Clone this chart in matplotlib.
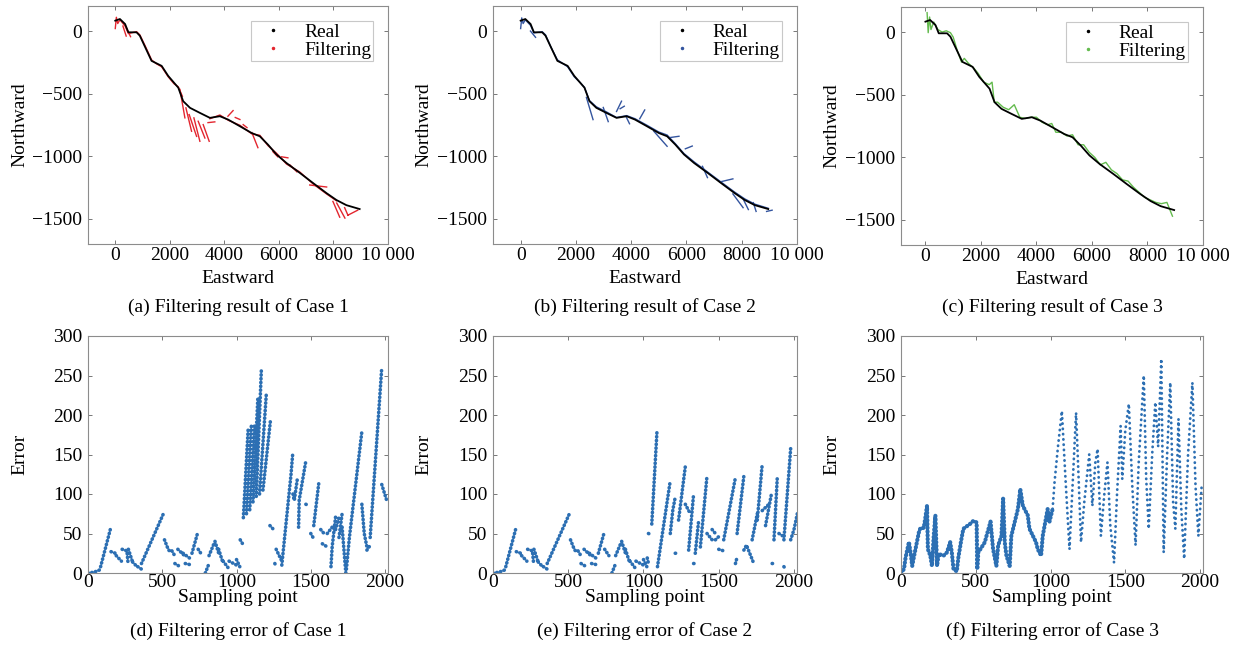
import numpy as np
import matplotlib
matplotlib.use("Agg")
import matplotlib.pyplot as plt
from matplotlib.lines import Line2D

plt.rcParams['font.family'] = ['Liberation Serif', 'DejaVu Serif']
plt.rcParams['font.size'] = 14

# ---------------- data: trajectories (Eastward, Northward) ----------------
real_e = [0, 170, 360, 480, 780, 900, 1330, 1700, 1940, 2310, 2490, 2740, 3100, 3470,
          3835, 4140, 4570, 5000, 5300, 5600, 5910, 6280, 6765, 7250, 7745, 8110, 8475, 8960]
real_n = [83, 96, 56, -10, -10, -37, -238, -278, -358, -452, -560, -613, -653, -693,
          -680, -707, -760, -814, -840, -907, -985, -1054, -1132, -1213, -1294, -1349, -1390, -1421]

# Case 1 filtered track (main path pieces) and divergent segments
filt1_e = [0, 40, 90, 170, 360, 480, 780, 900, 1100, 1330, 1500, 1700, 1940, 2150, 2310, 2460]
filt1_n = [20, 110, 60, 90, 40, -20, -5, -30, -120, -230, -260, -285, -365, -420, -445, -520]
filt1b_e = [3470, 3835, 4140, 4570, 5000, 5300, 5600, 5910, 6280, 6765, 7250, 7745, 8110]
filt1b_n = [-700, -670, -712, -752, -820, -832, -915, -975, -1062, -1125, -1220, -1300, -1355]
spikes1 = [(280, 40, 400, -40), (420, 20, 560, -45),
           (2370, -466, 2553, -693), (2590, -613, 2797, -800), (2711, -667, 2981, -841),
           (2883, -693, 3102, -880), (3040, -720, 3286, -854), (3224, -747, 3444, -880),
           (3400, -731, 3650, -725), (4130, -680, 4320, -635), (4400, -690, 4570, -706),
           (4690, -747, 4830, -771), (5010, -811, 5230, -931), (5780, -963, 5960, -1004),
           (6100, -1004, 6330, -1012), (6400, -1068, 6660, -1124), (7130, -1229, 7750, -1245),
           (7980, -1360, 8230, -1486), (8120, -1373, 8420, -1493), (8410, -1410, 8530, -1470),
           (8530, -1470, 8890, -1430)]

# Case 2 filtered track and divergent segments
filt2_e = [0, 40, 90, 170, 360, 480, 780, 900, 1100, 1330, 1500, 1700, 1940, 2150, 2310, 2490,
           2740, 3100, 3470, 3835, 4140, 4570, 5000, 5300, 5600, 5910, 6280, 6765, 7250, 7745,
           8110, 8475, 8960]
filt2_n = [20, 105, 60, 90, 45, -15, -5, -30, -130, -230, -255, -285, -365, -410, -450, -555,
           -605, -645, -690, -675, -700, -752, -806, -830, -900, -978, -1045, -1125, -1205, -1286,
           -1340, -1382, -1415]
spikes2 = [(355, 0, 540, -50), (2380, -530, 2620, -707), (2990, -610, 3170, -723),
           (3470, -642, 3650, -560), (3600, -620, 3750, -600), (3830, -690, 3940, -740),
           (4310, -700, 4490, -630), (4820, -800, 5300, -920), (5410, -850, 5730, -840),
           (5960, -940, 6210, -918), (6580, -1080, 6760, -1170), (7200, -1205, 7680, -1180),
           (7680, -1300, 8050, -1410), (8050, -1340, 8240, -1425), (8420, -1370, 8520, -1440),
           (8900, -1440, 9100, -1430)]

# Case 3 filtered track
filt3_e = [60, 100, 150, 200, 300, 450, 600, 750, 900, 1000, 1150, 1300, 1400, 1550, 1750, 1900,
           2100, 2300, 2400, 2480, 2600, 2800, 3000, 3200, 3400, 3600, 3800, 4000, 4200, 4400,
           4550, 4700, 4900, 5100, 5300, 5500, 5700, 5900, 6100, 6300, 6500, 6700, 6900, 7100,
           7300, 7500, 7700, 7900, 8100, 8300, 8500, 8700, 8900]
filt3_n = [155, -5, 120, 20, 80, 20, 0, 10, -5, -40, -150, -240, -210, -250, -290, -330,
           -400, -420, -400, -560, -560, -600, -620, -580, -680, -690, -680, -680, -720, -740,
           -730, -800, -800, -830, -820, -900, -900, -960, -1000, -1060, -1040, -1100, -1130, -1180,
           -1190, -1240, -1280, -1320, -1340, -1360, -1370, -1360, -1470]

# ---------------- data: filtering errors (sampling point, error) ----------------
# first part shared by Case 1 and Case 2
err_head = [[(0, 0), (40, 1), (80, 4)], [(85, 8), (150, 55)], [(155, 27), (185, 25)],
            [(190, 22), (225, 15)], [(230, 30), (262, 28), (270, 12)], [(272, 30), (300, 14)],
            [(300, 14), (330, 8)], [(335, 8), (375, 3)], [(360, 12), (510, 76)],
            [(515, 42), (540, 30), (560, 25)], [(565, 28), (590, 20)], [(585, 12), (620, 8)],
            [(605, 30), (650, 22)], [(640, 25), (690, 18)], [(655, 12), (700, 10)],
            [(700, 25), (740, 52)], [(742, 30), (770, 22)], [(790, 0), (815, 12)],
            [(815, 22), (850, 38)], [(855, 40), (880, 25)], [(880, 30), (910, 12)],
            [(910, 15), (950, 5)], [(950, 15), (1000, 10)], [(1000, 17), (1022, 8)]]

err1_tail = [[(1025, 42), (1044, 36)], [(1046, 70), (1078, 181)], [(1067, 75), (1100, 187)],
             [(1089, 80), (1122, 190)], [(1111, 90), (1144, 223)], [(1133, 97), (1167, 256)],
             [(1155, 100), (1200, 225)], [(1178, 105), (1229, 194)], [(1225, 60), (1255, 54)],
             [(1258, 12), (1267, 8)], [(1267, 30), (1300, 17)],
             [(1305, 10), (1367, 125), (1378, 150)], [(1380, 100), (1389, 92), (1411, 121)],
             [(1418, 58), (1422, 92), (1467, 142)], [(1467, 87), (1489, 85)],
             [(1500, 50), (1515, 45)], [(1520, 60), (1556, 117)], [(1567, 55), (1589, 50)],
             [(1578, 37), (1611, 33)], [(1611, 50), (1644, 58)],
             [(1636, 8), (1644, 33), (1667, 71)], [(1667, 55), (1690, 70)],
             [(1690, 45), (1711, 75)], [(1711, 58), (1733, 8), (1736, 0)],
             [(1740, 5), (1760, 45), (1844, 179)], [(1844, 87), (1860, 50), (1878, 33)],
             [(1878, 29), (1900, 35)], [(1900, 45), (1978, 260)], [(1978, 112), (2011, 92)]]

err2_tail = [[(1025, 19), (1033, 12)], [(1033, 50), (1055, 48)], [(1055, 62), (1090, 181)],
             [(1093, 8), (1178, 117)], [(1178, 50), (1195, 80), (1211, 96)],
             [(1211, 25), (1233, 25)], [(1233, 67), (1278, 135)], [(1278, 87), (1311, 75)],
             [(1300, 29), (1333, 100)], [(1333, 12), (1344, 12)], [(1344, 25), (1367, 67)],
             [(1378, 33), (1422, 123)], [(1422, 50), (1456, 42)], [(1456, 55), (1478, 50)],
             [(1478, 42), (1510, 48)], [(1500, 30), (1533, 28)], [(1533, 42), (1611, 121)],
             [(1611, 12), (1622, 20)], [(1622, 50), (1667, 123)], [(1667, 29), (1689, 37)],
             [(1689, 33), (1733, 12)], [(1722, 42), (1756, 75)], [(1756, 67), (1789, 138)],
             [(1789, 79), (1833, 87)], [(1811, 60), (1850, 100)], [(1855, 12), (1878, 12)],
             [(1867, 42), (1889, 121)], [(1900, 50), (1933, 46)], [(1933, 8), (1944, 5)],
             [(1933, 42), (1978, 158)], [(1978, 42), (2000, 55), (2022, 75)]]

err3_head_x = [0, 20, 31, 53, 64, 75, 86, 119, 130, 152, 163, 174, 180, 196, 207, 219, 230, 241,
               252, 285, 307, 329, 340, 351, 373, 384, 406, 417, 461, 484, 506, 510, 517, 561,
               572, 599, 616, 638, 650, 672, 683, 694, 705, 727, 738, 782, 798, 815, 848, 859,
               903, 915, 937, 948, 981, 992, 1014]
err3_head_y = [0, 5, 20, 39, 26, 9, 20, 51, 57, 57, 70, 85, 30, 22, 9, 47, 73, 9,
               24, 22, 26, 39, 26, 5, 2, 20, 45, 56, 62, 66, 64, 5, 26, 39,
               47, 65, 30, 9, 35, 47, 94, 39, 22, 9, 47, 81, 106, 85, 73, 56,
               39, 30, 22, 47, 81, 64, 81]
err3_tail_x = [1014, 1027, 1050, 1076, 1100, 1127, 1150, 1171, 1190, 1204, 1226, 1259, 1280,
               1300, 1315, 1337, 1360, 1381, 1400, 1425, 1445, 1469, 1480, 1500, 1524, 1547,
               1569, 1590, 1624, 1640, 1657, 1680, 1701, 1720, 1741, 1757, 1780, 1801, 1820,
               1835, 1856, 1875, 1894, 1920, 1949, 1970, 1989, 2011]
err3_tail_y = [81, 115, 160, 205, 120, 30, 120, 203, 110, 39, 90, 150, 85,
               140, 157, 47, 100, 140, 60, 13, 100, 186, 119, 180, 214, 110,
               35, 140, 250, 120, 56, 150, 216, 160, 271, 26, 150, 241, 90,
               56, 195, 80, 18, 150, 241, 110, 47, 110]

# ---------------- labels ----------------
top_xticks = [0, 2000, 4000, 6000, 8000, 10000]
top_xlabels = ['0', '2000', '4000', '6000', '8000', '10 000']
top_yticks = [-1500, -1000, -500, 0]
top_ylabels = ['\u22121500', '\u22121000', '\u2212500', '0']
bot_xticks = [0, 500, 1000, 1500, 2000]
bot_yticks = [0, 50, 100, 150, 200, 250, 300]
captions_top = ['(a) Filtering result of Case 1', '(b) Filtering result of Case 2',
                '(c) Filtering result of Case 3']
captions_bot = ['(d) Filtering error of Case 1', '(e) Filtering error of Case 2',
                '(f) Filtering error of Case 3']
filt_colors = ['#e3262f', '#34559f', '#64bb4e']
err_color = '#2c6fb3'


def segs_xy(segs):
    xs, ys = [], []
    for s in segs:
        for x, y in s:
            xs.append(x)
            ys.append(y)
        xs.append(np.nan)
        ys.append(np.nan)
    return np.array(xs, float), np.array(ys, float)


def spikes_xy(sp):
    return segs_xy([[(a, b), (c, d)] for a, b, c, d in sp])


W, H = 1234, 646
fig = plt.figure(figsize=(W / 100, H / 100), dpi=100)


def rect(l, t, r, b):
    return [l / W, 1 - b / H, (r - l) / W, (b - t) / H]


def style(ax):
    for sp in ax.spines.values():
        sp.set_color('#8c8c8c')
        sp.set_linewidth(0.8)
    ax.tick_params(direction='in', length=3, width=0.7, color='#777777', top=True, right=True,
                   labelsize=14)
    ax.tick_params(axis='y', pad=4)
    ax.tick_params(axis='x', pad=2)


top_rects = [(88, 6, 388, 244), (493, 6, 797, 244), (901, 7, 1203, 245)]
bot_rects = [(88, 336, 388, 573), (493, 336, 797, 573), (901, 336, 1203, 573)]
xmins = [-1000, -1000, -880]

filts = [[(filt1_e, filt1_n), (filt1b_e, filt1b_n)], [(filt2_e, filt2_n)], [(filt3_e, filt3_n)]]
spks = [spikes1, spikes2, []]

for i in range(3):
    ax = fig.add_axes(rect(*top_rects[i]))
    style(ax)
    c = filt_colors[i]
    for fe, fn in filts[i]:
        ax.plot(fe, fn, color=c, lw=1.0)
    if spks[i]:
        sx, sy = spikes_xy(spks[i])
        ax.plot(sx, sy, color=c, lw=1.0)
    ax.plot(real_e, real_n, color='black', lw=1.3)
    ax.set_xlim(xmins[i], 10000)
    ax.set_ylim(-1700, 200)
    ax.set_xticks(top_xticks)
    ax.set_xticklabels(top_xlabels)
    ax.set_yticks(top_yticks)
    ax.set_yticklabels(top_ylabels)
    ax.set_xlabel('Eastward', fontsize=14)
    ax.set_ylabel('Northward', fontsize=14)
    ax.xaxis.set_label_coords(0.5, -0.11)
    ax.yaxis.set_label_coords(-0.2, 0.5)
    handles = [Line2D([], [], ls='none', marker='.', ms=3, color='black'),
               Line2D([], [], ls='none', marker='.', ms=3, color=c)]
    leg = ax.legend(handles, ['Real', 'Filtering'], loc='upper right',
                    bbox_to_anchor=(0.95, 0.935), fontsize=14, frameon=True, fancybox=False,
                    edgecolor='#c8c8c8', framealpha=1, borderpad=0.1, labelspacing=0.0,
                    handlelength=2.0, handletextpad=0.6, borderaxespad=0)
    leg.get_frame().set_linewidth(0.8)
    cx = (top_rects[i][0] + top_rects[i][2]) / 2
    fig.text(cx / W, 1 - 307 / H, captions_top[i], ha='center', va='center', fontsize=14)

err_sets = [segs_xy(err_head + err1_tail), segs_xy(err_head + err2_tail)]
for i in range(3):
    ax = fig.add_axes(rect(*bot_rects[i]))
    style(ax)
    ax.tick_params(axis='x', pad=1)
    if i < 2:
        ex, ey = err_sets[i]
        ax.plot(ex, ey, color=err_color, lw=2.6, ls=(0, (0.1, 0.95)), dash_capstyle='round')
    else:
        ax.plot(err3_head_x, err3_head_y, color=err_color, lw=3.0, ls=(0, (0.1, 0.8)),
                dash_capstyle='round')
        ax.plot(err3_tail_x, err3_tail_y, color=err_color, lw=2.0, ls=(0, (0.1, 1.8)),
                dash_capstyle='round')
    ax.set_xlim(0, 2020)
    ax.set_ylim(0, 300)
    ax.set_xticks(bot_xticks)
    ax.set_yticks(bot_yticks)
    ax.set_xlabel('Sampling point', fontsize=14)
    ax.set_ylabel('Error', fontsize=14)
    ax.xaxis.set_label_coords(0.5, -0.068)
    ax.yaxis.set_label_coords(-0.2, 0.5)
    cx = (bot_rects[i][0] + bot_rects[i][2]) / 2
    fig.text(cx / W, 1 - 631 / H, captions_bot[i], ha='center', va='center', fontsize=14)

fig.savefig('out.png', dpi=100)
